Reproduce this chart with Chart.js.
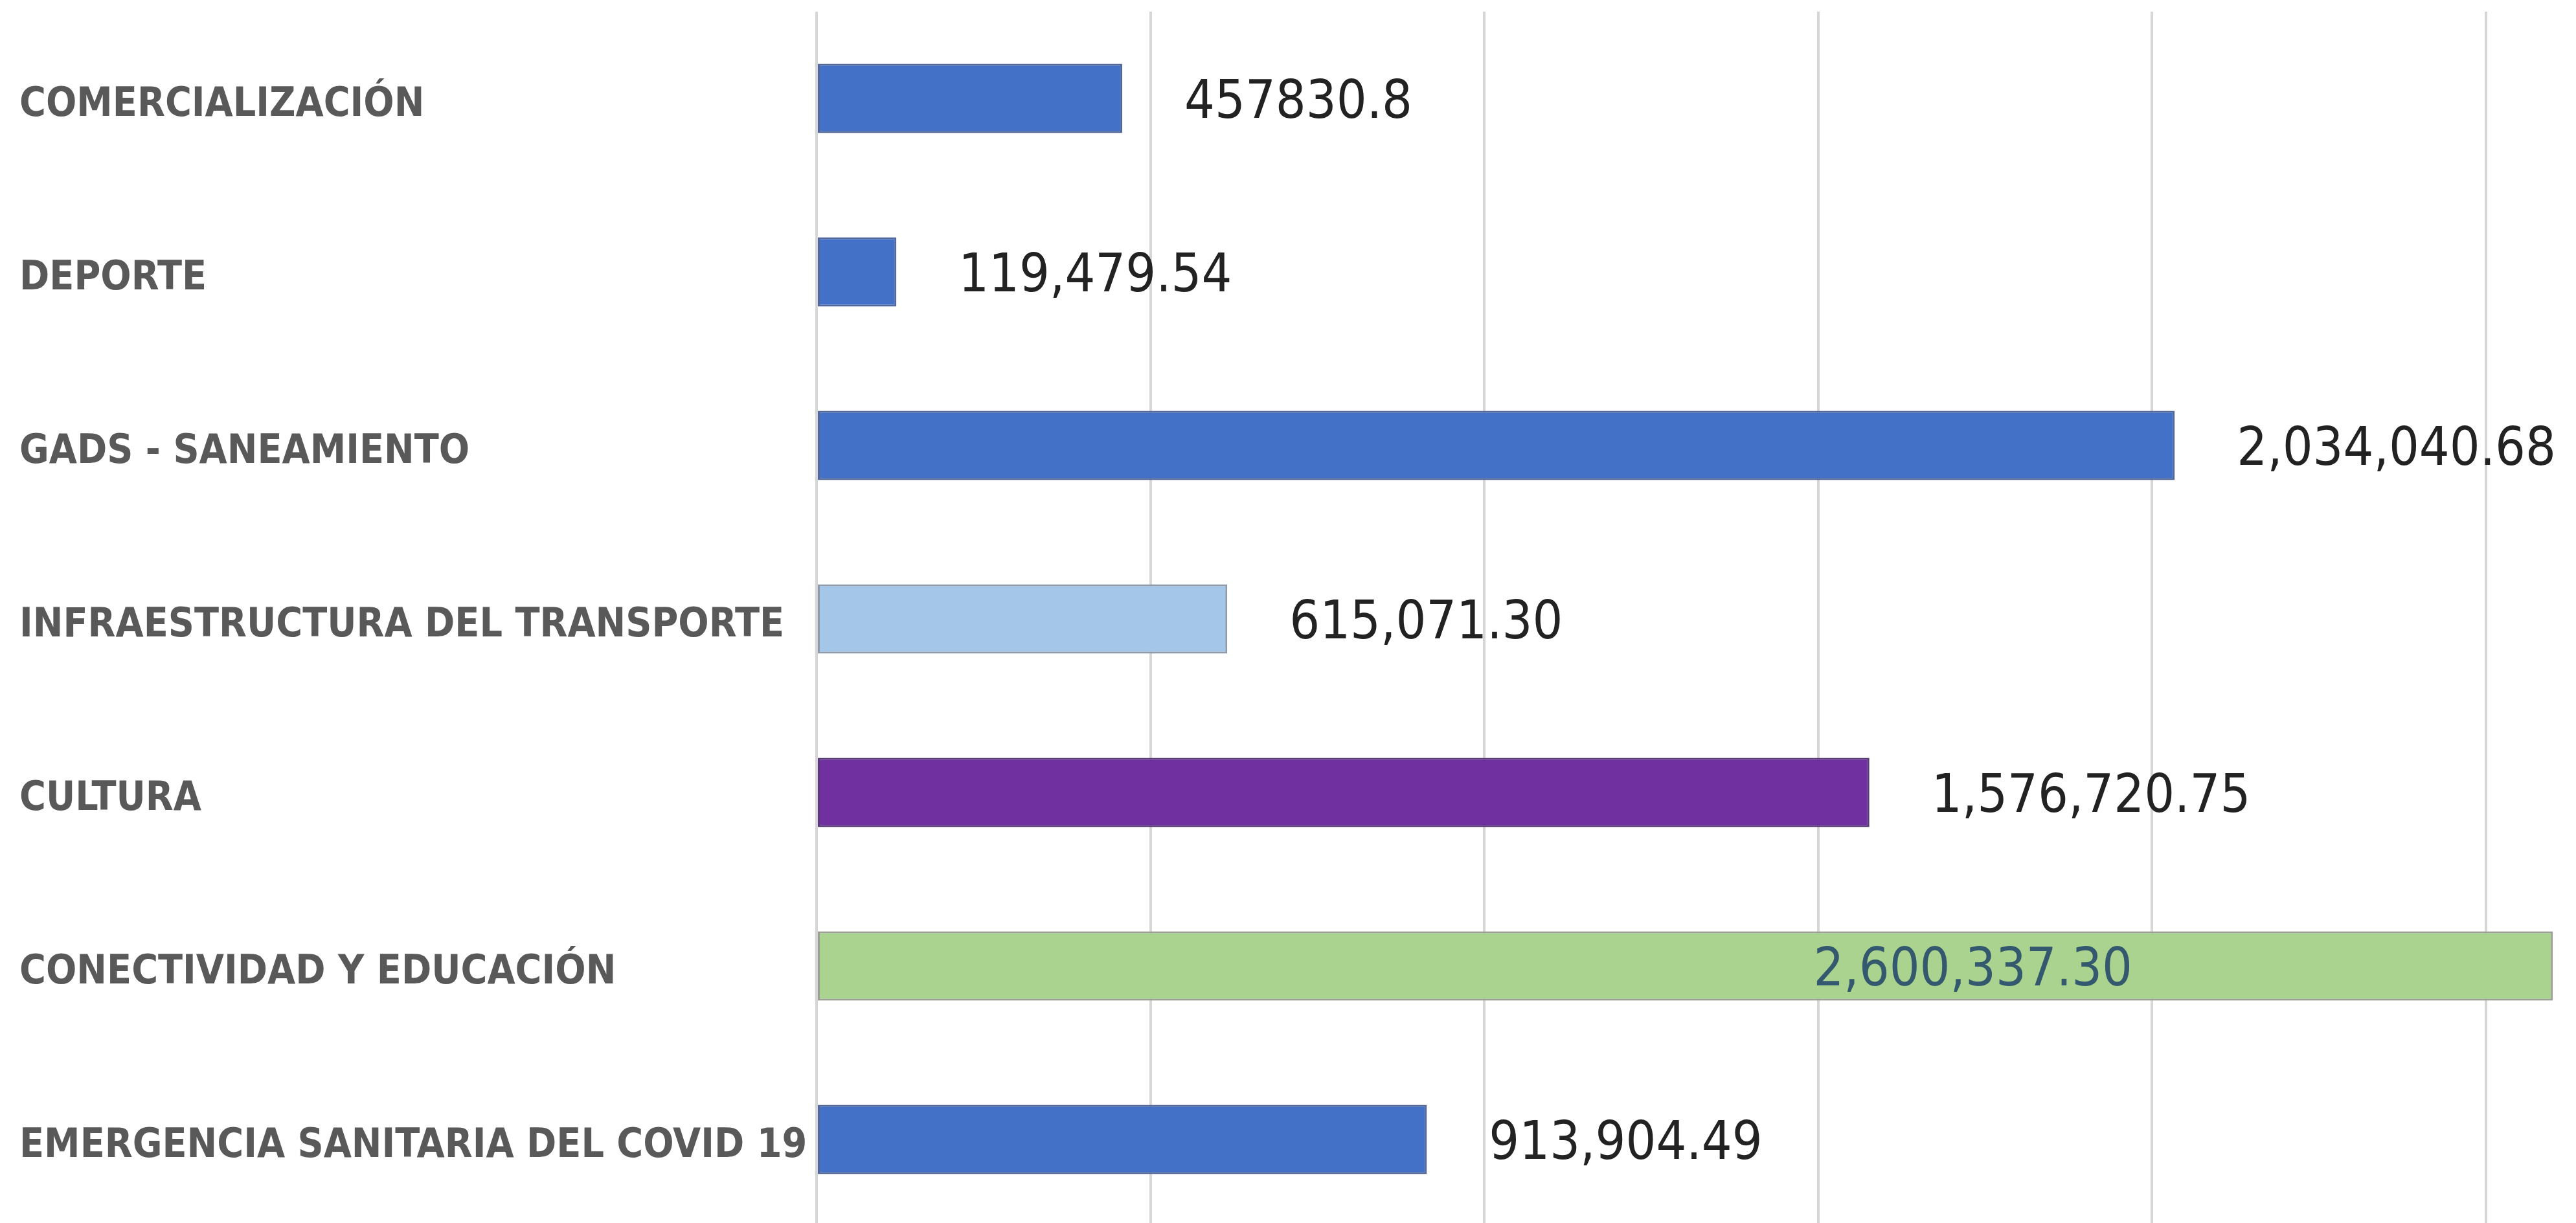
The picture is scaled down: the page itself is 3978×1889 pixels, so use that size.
<!DOCTYPE html>
<html>
<head>
<meta charset="utf-8">
<title>Presupuesto por sector</title>
<script src="https://cdn.jsdelivr.net/npm/chart.js@4.4.0/dist/chart.umd.min.js"></script>
<style>
  html, body { margin: 0; padding: 0; background: #ffffff; overflow: hidden; }
  #wrap { width: 3978px; height: 1894px; overflow: hidden; }
</style>
</head>
<body>
<div id="wrap">
  <canvas id="myChart" width="3978" height="1894"></canvas>
</div>
<script>
'use strict';
let categories = ['COMERCIALIZACIÓN', 'DEPORTE', 'GADS - SANEAMIENTO', 'INFRAESTRUCTURA DEL TRANSPORTE', 'CULTURA', 'CONECTIVIDAD Y EDUCACIÓN', 'EMERGENCIA SANITARIA DEL COVID 19'];
let amounts = [457830.8, 119479.54, 2034040.68, 615071.30, 1576720.75, 2600337.30, 913904.49];
let valueLabels = ['457830.8', '119,479.54', '2,034,040.68', '615,071.30', '1,576,720.75', '2,600,337.30', '913,904.49'];
let gridTicks = [0, 500000, 1000000, 1500000, 2000000, 2500000];
let axisMax = 2635000;

let barColors = ['#4371c8', '#4371c8', '#4371c8', '#a3c6e9', '#7030a0', '#a9d38f', '#4371c8'];
let barBorders = ['#52679a', '#52679a', '#52679a', '#8f9aa8', '#5a3a7a', '#9a9f96', '#52679a'];

// draws the amount next to each bar, or inside when there is no room left
let valueLabelPlugin = {
    id: 'valueLabels',
    afterDatasetsDraw(chart) {
        let ctx = chart.ctx;
        let meta = chart.getDatasetMeta(0);
        let xScale = chart.scales.x;
        ctx.save();
        ctx.font = '82px "DejaVu Sans Condensed", "DejaVu Sans", sans-serif';
        ctx.textBaseline = 'middle';
        for (let i = 0; i < meta.data.length; i++) {
            let bar = meta.data[i];
            let txt = valueLabels[i];
            let w = ctx.measureText(txt).width;
            let x = bar.x + 96;
            if (x + w > chart.chartArea.right) {
                // no room: put it inside the bar
                ctx.fillStyle = '#34586e';
                ctx.textAlign = 'center';
                ctx.fillText(txt, xScale.getPixelForValue(amounts[i] * 0.666), bar.y + 9);
            } else {
                ctx.fillStyle = '#222222';
                ctx.textAlign = 'left';
                ctx.fillText(txt, x, bar.y + 9);
            }
        }
        ctx.restore();
    }
};

let ctx = document.getElementById('myChart').getContext('2d');
let myChart = new Chart(ctx, {
    type: 'bar',
    data: {
        labels: categories,
        datasets: [{
            label: 'Monto',
            data: amounts,
            backgroundColor: barColors,
            borderColor: barBorders,
            borderWidth: 3,
            borderSkipped: false,
            categoryPercentage: 1.0,
            barPercentage: 0.4
        }]
    },
    options: {
        indexAxis: 'y',
        responsive: false,
        animation: false,
        devicePixelRatio: 1,
        layout: {
            padding: { left: 30, top: 18, right: 0, bottom: 0 }
        },
        plugins: {
            legend: { display: false },
            tooltip: { enabled: false },
            title: { display: false }
        },
        scales: {
            x: {
                min: 0,
                max: axisMax,
                ticks: { display: false },
                afterBuildTicks: function (scale) {
                    scale.ticks = gridTicks.map(v => ({ value: v }));
                },
                afterFit: function (scale) {
                    scale.height = 0;
                    scale.paddingLeft = 0;
                    scale.paddingRight = 0;
                },
                grid: { color: '#d6d6d6', lineWidth: 4, drawTicks: false },
                border: { display: false }
            },
            y: {
                afterFit: function (scale) {
                    scale.width = 1231;
                    // no extra room above/below for the first and last label
                    scale.paddingTop = 0;
                    scale.paddingBottom = 0;
                },
                ticks: {
                    autoSkip: false,
                    crossAlign: 'far',
                    padding: 0,
                    labelOffset: 11,
                    color: '#595959',
                    font: { family: '"DejaVu Sans Condensed", "DejaVu Sans", sans-serif', size: 62, weight: 'bold' }
                },
                grid: { display: false, drawTicks: false },
                border: { display: false }
            }
        }
    },
    plugins: [valueLabelPlugin]
});
</script>
</body>
</html>
